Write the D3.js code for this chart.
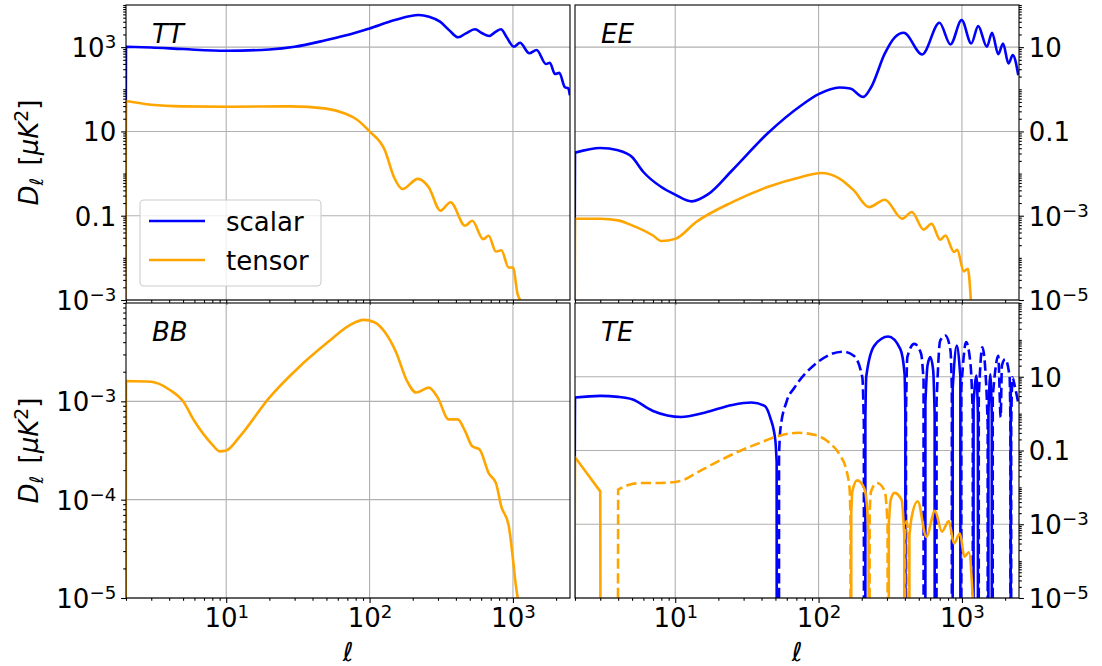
<!DOCTYPE html>
<html><head><meta charset="utf-8">
<script src="https://cdn.jsdelivr.net/npm/d3@7"></script>
<style>
body{margin:0;background:#fff;}
svg{font-family:"DejaVu Sans";}
</style></head><body>
<svg id="c" width="1102" height="666"></svg>
<script>
// ---------------- DATA ----------------
const xTicks = [10, 100, 1000];
const xTickLabels = ["10^{1}", "10^{2}", "10^{3}"];

const ttTicks = [1e-3, 1e-1, 1e1, 1e3];
const ttTickLabels = ["10^{−3}", "0.1", "10", "10^{3}"];
const eeTicks = [1e-5, 1e-3, 1e-1, 1e1];
const eeTickLabels = ["10^{−5}", "10^{−3}", "0.1", "10"];
const bbTicks = [1e-5, 1e-4, 1e-3];
const bbTickLabels = ["10^{−5}", "10^{−4}", "10^{−3}"];
const teTicks = [1e-5, 1e-3, 1e-1, 1e1];
const teTickLabels = ["10^{−5}", "10^{−3}", "0.1", "10"];

const seriesNames = ["scalar", "tensor"];

// TT
const ttScalarEll = [1, 2, 3, 5, 10, 20, 30, 50, 70, 100, 150, 220, 260, 310, 360, 415, 470, 543, 610, 684, 760, 825, 900, 1016, 1120, 1300, 1463, 1700, 1810, 1963, 2105, 2303, 2430, 2496];
const ttScalarVal = [0, 1020, 980, 900, 820, 880, 1018, 1470, 1930, 2780, 4400, 5780, 5260, 4020, 2500, 1710, 2130, 2650, 2130, 1840, 2330, 2650, 1770, 1020, 1270, 715, 855, 398, 427, 230, 245, 112, 105, 72];
const ttTensorEll = [1, 2, 3, 5, 10, 28, 50, 68, 80, 100, 128, 148, 170, 217, 259, 312, 367, 464, 520, 620, 677, 760, 830, 933, 1000, 1079, 1123, 1135];
const ttTensorVal = [0, 52.7, 43, 39.4, 38.6, 39.4, 34.7, 26.3, 20, 10, 3.53, 0.82, 0.43, 0.75, 0.47, 0.132, 0.209, 0.0578, 0.0759, 0.0278, 0.0334, 0.0141, 0.0152, 0.0059, 0.0059, 0.00136, 0.001, 0];

// EE
const eeScalarEll = [1, 2, 3, 4, 5, 6, 8, 10, 13, 17, 25, 44, 76, 100, 140, 166, 205, 232, 290, 340, 393, 528, 697, 832, 995, 1162, 1298, 1492, 1622, 1792, 1936, 2111, 2263, 2472];
const eeScalarVal = [0, 0.0313, 0.0405, 0.0356, 0.0247, 0.0109, 0.00479, 0.00316, 0.00219, 0.00324, 0.012, 0.089, 0.417, 0.764, 1.10, 1.04, 0.66, 1.10, 7.08, 17, 21.9, 6.7, 37.8, 11.6, 43.9, 12.2, 31.6, 10.2, 21.9, 6.82, 12.2, 4.09, 6.46, 2.16];
const eeTensorEll = [1, 2, 3, 4, 5, 7, 8, 10, 14, 25, 44, 76, 104, 140, 176, 225, 290, 383, 447, 540, 614, 705, 766, 881, 927, 1029, 1099, 1150, 1160];
const eeTensorVal = [0, 8.45e-4, 8.45e-4, 7.76e-4, 5.9e-4, 3.39e-4, 2.51e-4, 2.82e-4, 7.08e-4, 2.1e-3, 4.79e-3, 8.32e-3, 0.0103, 7.59e-3, 3.98e-3, 1.6e-3, 2.4e-3, 8.5e-4, 1.23e-3, 4.68e-4, 6.46e-4, 2.69e-4, 3.39e-4, 1.38e-4, 1.55e-4, 4.79e-5, 5.5e-5, 1.2e-5, 0];

// BB
const bbTensorEll = [1, 2, 3, 4, 5, 6, 8, 9, 10, 12.5, 20, 32, 51, 72, 91, 108, 128, 153, 182, 211, 259, 299, 356, 412, 463, 520, 585, 677, 760, 830, 933, 1000, 1047, 1079, 1100];
const bbTensorVal = [0, 1.61e-3, 1.58e-3, 1.32e-3, 1.0e-3, 6.3e-4, 3.63e-4, 3.1e-4, 3.16e-4, 4.43e-4, 1.09e-3, 2.21e-3, 3.98e-3, 5.89e-3, 6.73e-3, 6.37e-3, 5.04e-3, 3.16e-3, 1.62e-3, 1.23e-3, 1.38e-3, 1.09e-3, 6.55e-4, 6.55e-4, 5.0e-4, 3.49e-4, 3.24e-4, 1.86e-4, 1.48e-4, 8.5e-5, 5.5e-5, 2.5e-5, 1.35e-5, 1.0e-5, 0];

// TE (signed: positive drawn solid, negative drawn dashed)
const teScalarEll = [1, 2, 3, 4, 5, 7, 11, 16, 25, 34, 42, 46, 50, 51, 53, 54, 60, 68, 95, 148, 176, 202, 207, 212, 215, 245, 306, 372, 398, 403, 407, 416, 465, 519, 540, 556, 575, 602, 630, 645, 665, 705, 766, 832, 850, 862, 920, 975, 990, 1069, 1150, 1190, 1205, 1262, 1292, 1310, 1387, 1480, 1512, 1530, 1578, 1615, 1640, 1792, 1862, 1900, 2000, 2150, 2178, 2190, 2205, 2250, 2350, 2480];
const teScalarVal = [0, 2.73, 3.03, 2.85, 2.45, 1.18, 0.81, 1.06, 1.72, 2.0, 1.62, 0.78, 0.18, 0.05, -0.08, -0.34, -2.2, -5.1, -22.1, -47.9, -37.2, -9.5, -0.5, 0.8, 10, 70, 123, 56, 11.7, 1, -1, -34, -78, -42, -8, 2, 20, 34, 15, 1, -2, -95, -132, -51, -5, 5, 70, 10, -5, -87, -20, -1, 2, 10.7, 1, -3, -63, -5, -0.5, 1, 11.7, 1, -3, -37, -0.8, -20, -30, -10, -0.5, 5, -0.5, -9.6, -5, -1.8];
const teTensorEll = [1, 2, 3, 4, 5, 6, 8, 11, 14, 19, 28, 39, 52, 72, 95, 119, 140, 157, 165, 167, 169, 172, 186, 208, 218, 223, 227, 232, 256, 290, 303, 309, 318, 339, 380, 396, 401, 410, 425, 430, 445, 491, 565, 648, 725, 810, 880, 968, 1040, 1117, 1190, 1200];
const teTensorVal = [0, 0.066, 0.0078, -0.0087, -0.0123, -0.0132, -0.0132, -0.0151, -0.0245, -0.0461, -0.0955, -0.162, -0.245, -0.302, -0.263, -0.162, -0.0776, -0.0275, -0.0078, -0.001, 0.002, 0.0078, 0.0155, 0.0095, 0.003, 0.0005, -0.002, -0.0076, -0.0132, -0.0078, -0.001, 0.001, 0.0045, 0.0071, 0.0045, 0.0005, -0.0005, -0.0012, -0.0005, 0.0005, 0.0015, 0.0042, 0.00046, 0.0023, 0.00063, 0.00123, 0.0003, 0.00056, 0.000132, 0.000174, 0.00001, 0];

// ---------------- DRAWING ----------------
const COLORS = {scalar: "#0000ff", tensor: "#ffa500"};
const FS = 26;
const svg = d3.select("#c");
const xDomain = [2, 2500];

const panels = [
  {name: "TT", x: [126, 570], y: [5, 300], dom: [1e-3, 1e4], side: "left", ticks: ttTicks, labels: ttTickLabels, bottom: false,
   series: [{e: ttScalarEll, v: ttScalarVal, c: "scalar"}, {e: ttTensorEll, v: ttTensorVal, c: "tensor"}], legend: true},
  {name: "EE", x: [575, 1019], y: [5, 300], dom: [1e-5, 1e2], side: "right", ticks: eeTicks, labels: eeTickLabels, bottom: false,
   series: [{e: eeScalarEll, v: eeScalarVal, c: "scalar"}, {e: eeTensorEll, v: eeTensorVal, c: "tensor"}]},
  {name: "BB", x: [126, 570], y: [303, 598], dom: [1e-5, 1e-2], side: "left", ticks: bbTicks, labels: bbTickLabels, bottom: true,
   series: [{e: bbTensorEll, v: bbTensorVal, c: "tensor"}]},
  {name: "TE", x: [575, 1019], y: [303, 598], dom: [1e-5, 1e3], side: "right", ticks: teTicks, labels: teTickLabels, bottom: true,
   series: [{e: teScalarEll, v: teScalarVal, c: "scalar", signed: true}, {e: teTensorEll, v: teTensorVal, c: "tensor", signed: true}]},
];

function setLabel(sel, str) {
  sel.text(null);
  const m = str.match(/^(.*)\^\{(.*)\}$/);
  if (m) {
    sel.append("tspan").text(m[1]);
    sel.append("tspan").attr("font-size", "70%").attr("dy", -9).text(m[2]);
  } else sel.text(str);
}

function minorTicks(dom, majors) {
  const out = [];
  const k0 = Math.floor(Math.log10(dom[0]) + 1e-9), k1 = Math.ceil(Math.log10(dom[1]) - 1e-9);
  for (let k = k0; k <= k1; k++) {
    for (let m = 1; m <= 9; m++) {
      const v = m * Math.pow(10, k);
      if (v < dom[0] * 0.999 || v > dom[1] * 1.001) continue;
      if (majors.some(t => Math.abs(t - v) / v < 1e-6)) continue;
      out.push(v);
    }
  }
  return out;
}

const FLOOR = 1e-300;
function buildPath(xs, ys, ell, val, sign) {
  const pts = ell.map((l, i) => ({l, v: sign * val[i]}));
  const X = d => xs(d.l), Y = d => ys(d.v > 0 ? d.v : FLOOR);
  const line = d3.line().x(X).y(Y).curve(d3.curveMonotoneX);
  let path = "";
  let i = 0;
  while (i < pts.length) {
    if (pts[i].v > 0) {
      let j = i;
      while (j + 1 < pts.length && pts[j + 1].v > 0) j++;
      let seg = line(pts.slice(i, j + 1));
      if (i > 0) seg = "M" + X(pts[i - 1]) + "," + Y(pts[i - 1]) + "L" + seg.slice(1);
      if (j < pts.length - 1) seg += "L" + X(pts[j + 1]) + "," + Y(pts[j + 1]);
      path += seg;
      i = j + 1;
    } else i++;
  }
  return path;
}

panels.forEach((p, pi) => {
  const xs = d3.scaleLog().domain(xDomain).range(p.x);
  const ys = d3.scaleLog().domain(p.dom).range([p.y[1], p.y[0]]);
  const W = p.x[1] - p.x[0], H = p.y[1] - p.y[0];
  const g = svg.append("g");

  const cid = "clip" + pi;
  svg.append("clipPath").attr("id", cid).append("rect")
    .attr("x", p.x[0]).attr("y", p.y[0]).attr("width", W).attr("height", H);

  const grid = g.append("g").attr("stroke", "#b0b0b0").attr("stroke-width", 1.1);
  xTicks.forEach(t => grid.append("line").attr("x1", xs(t)).attr("x2", xs(t)).attr("y1", p.y[0]).attr("y2", p.y[1]));
  p.ticks.forEach(t => grid.append("line").attr("x1", p.x[0]).attr("x2", p.x[1]).attr("y1", ys(t)).attr("y2", ys(t)));

  const lines = g.append("g").attr("clip-path", `url(#${cid})`).attr("fill", "none");
  p.series.forEach(s => {
    const col = COLORS[s.c];
    lines.append("path").attr("d", buildPath(xs, ys, s.e, s.v, 1))
      .attr("stroke", col).attr("stroke-width", 2.6).attr("stroke-linejoin", "round");
    if (s.signed) {
      lines.append("path").attr("d", buildPath(xs, ys, s.e, s.v, -1))
        .attr("stroke", col).attr("stroke-width", 2.6).attr("stroke-dasharray", "10.3,4.4");
    }
  });

  const xa = g.append("g").attr("transform", `translate(0,${p.y[1]})`);
  xa.call(d3.axisBottom(xs).tickValues(xTicks).tickSize(4.9).tickSizeOuter(0).tickFormat((d, i) => p.bottom ? xTickLabels[i] : ""));
  const xm = g.append("g").attr("transform", `translate(0,${p.y[1]})`);
  xm.call(d3.axisBottom(xs).tickValues(minorTicks(xDomain, xTicks)).tickSize(2.8).tickSizeOuter(0).tickFormat(""));
  [xa, xm].forEach(a => { a.select(".domain").remove(); a.selectAll(".tick line").attr("stroke", "#000").attr("stroke-width", 1.1); });
  xa.attr("font-family", "DejaVu Sans").attr("font-size", FS);
  xa.selectAll(".tick text").attr("fill", "#000").attr("y", 29).attr("dy", 0).each(function(d, i) { if (p.bottom) setLabel(d3.select(this), xTickLabels[i]); });

  const left = p.side === "left";
  const axisFn = left ? d3.axisLeft : d3.axisRight;
  const xpos = left ? p.x[0] : p.x[1];
  const ya = g.append("g").attr("transform", `translate(${xpos},0)`);
  ya.call(axisFn(ys).tickValues(p.ticks).tickSize(4.9).tickPadding(4.9).tickSizeOuter(0).tickFormat((d, i) => p.labels[i]));
  const ym = g.append("g").attr("transform", `translate(${xpos},0)`);
  ym.call(axisFn(ys).tickValues(minorTicks(p.dom, p.ticks)).tickSize(2.8).tickSizeOuter(0).tickFormat(""));
  [ya, ym].forEach(a => { a.select(".domain").remove(); a.selectAll(".tick line").attr("stroke", "#000").attr("stroke-width", 1.1); });
  ya.attr("font-family", "DejaVu Sans").attr("font-size", FS);
  ya.selectAll(".tick text").attr("fill", "#000").attr("dy", "0.36em").each(function(d, i) { setLabel(d3.select(this), p.labels[i]); });

  g.append("rect").attr("x", p.x[0]).attr("y", p.y[0]).attr("width", W).attr("height", H)
    .attr("fill", "none").attr("stroke", "#000").attr("stroke-width", 1.1);

  g.append("text").attr("x", p.x[0] + 26).attr("y", p.y[0] + 38)
    .attr("font-size", FS).attr("font-style", "italic").text(p.name);

  if (left) {
    const t = g.append("text").attr("transform", `translate(38,${(p.y[0] + p.y[1]) / 2}) rotate(-90)`)
      .attr("text-anchor", "middle").attr("font-size", FS);
    t.append("tspan").attr("font-style", "italic").text("D");
    t.append("tspan").attr("font-size", "72%").attr("dy", 5).text("ℓ");
    t.append("tspan").attr("dy", -5).attr("dx", 4).text(" [");
    t.append("tspan").attr("font-style", "italic").text("μK");
    t.append("tspan").attr("font-size", "72%").attr("dy", -10).text("2");
    t.append("tspan").attr("dy", 10).text("]");
  }
  if (p.bottom) {
    g.append("text").attr("x", (p.x[0] + p.x[1]) / 2).attr("y", 661).attr("text-anchor", "middle")
      .attr("font-size", FS).text("ℓ");
  }

  if (p.legend) {
    const lg = g.append("g");
    lg.append("rect").attr("x", 140).attr("y", 200).attr("width", 181).attr("height", 86).attr("rx", 4)
      .attr("fill", "#fff").attr("fill-opacity", 0.8).attr("stroke", "#cccccc").attr("stroke-width", 1.1);
    seriesNames.forEach((nm, i) => {
      const yy = 221 + i * 39;
      lg.append("line").attr("x1", 149).attr("x2", 205).attr("y1", yy).attr("y2", yy)
        .attr("stroke", COLORS[nm]).attr("stroke-width", 2.6);
      lg.append("text").attr("x", 226).attr("y", yy + 10).attr("font-size", FS).text(nm);
    });
  }
});
</script>
</body></html>
